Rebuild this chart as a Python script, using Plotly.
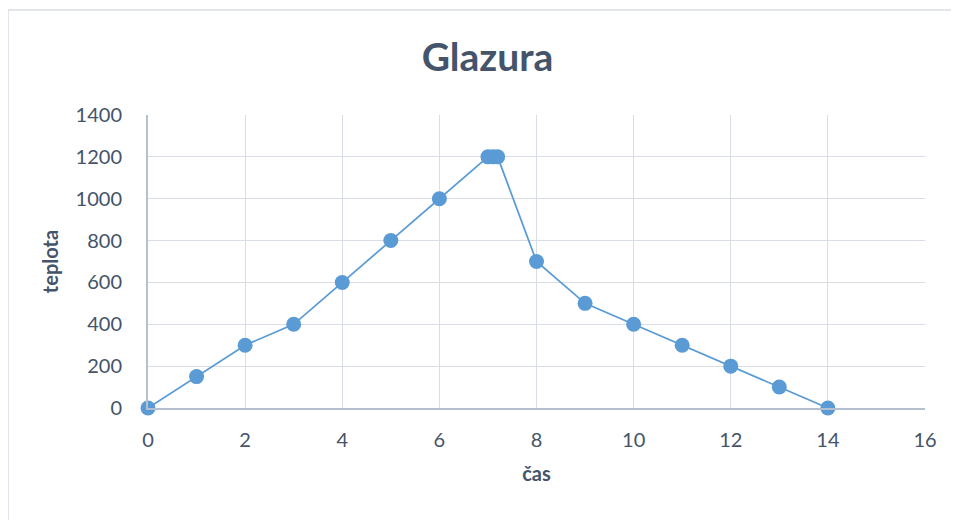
import plotly.graph_objects as go

cas = [0, 1, 2, 3, 4, 5, 6, 7, 7.1, 7.2, 8, 9, 10, 11, 12, 13, 14]
teplota = [0, 150, 300, 400, 600, 800, 1000, 1200, 1200, 1200, 700, 500, 400, 300, 200, 100, 0]
x_ticks = [0, 2, 4, 6, 8, 10, 12, 14, 16]
y_ticks = [0, 200, 400, 600, 800, 1000, 1200, 1400]

# figure is drawn at an 8px page offset
L, R, T, B = 140, 917, 107, 400
W, H = 959, 520

fig = go.Figure()
fig.add_trace(go.Scatter(
    x=cas, y=teplota, mode="lines+markers",
    line=dict(color="#5B9BD5", width=1.75),
    marker=dict(color="#5B9BD5", size=15, line=dict(width=0)),
    cliponaxis=False,
    hoverinfo="x+y", showlegend=False,
))

font_fam = "Lato, 'Open Sans', sans-serif"
tick_col = "#44546A"

fig.update_layout(
    width=W, height=H,
    margin=dict(l=L, r=W - R, t=T, b=H - B, autoexpand=False),
    paper_bgcolor="white", plot_bgcolor="white",
    title=dict(text="<b>Glazura</b>", x=0.5, xref="container", xanchor="center",
               y=1 - 49 / H, yref="container", yanchor="middle",
               font=dict(family=font_fam, size=39, color="#44546A")),
    xaxis=dict(range=[0, 16], tickvals=x_ticks, showgrid=True, gridcolor="#D9DEE6", gridwidth=1,
               zeroline=False, showline=True, linecolor="#B4BFD0", linewidth=2,
               ticks="", ticklabelstandoff=13,
               tickfont=dict(family=font_fam, size=20, color=tick_col),
               title=dict(text="<b>čas</b>", font=dict(family=font_fam, size=20, color=tick_col), standoff=17),
               automargin=False),
    yaxis=dict(range=[0, 1400], tickvals=y_ticks, showgrid=True, gridcolor="#D9DEE6", gridwidth=1,
               zeroline=False, showline=True, linecolor="#B4BFD0", linewidth=2,
               ticks="", ticklabelstandoff=20,
               tickfont=dict(family=font_fam, size=20, color=tick_col),
               title=dict(text="<b>teplota</b>", font=dict(family=font_fam, size=20, color=tick_col), standoff=12),
               automargin=False),
)

# outer chart border
fig.add_shape(type="rect", xref="paper", yref="paper",
              x0=(0 - L) / (R - L), x1=(990 - L) / (R - L),
              y0=(B - 540) / (B - T), y1=(B - 2) / (B - T),
              line=dict(color="#D9DEE6", width=1.5), fillcolor="rgba(0,0,0,0)", layer="below")

fig.write_html("out.html")
